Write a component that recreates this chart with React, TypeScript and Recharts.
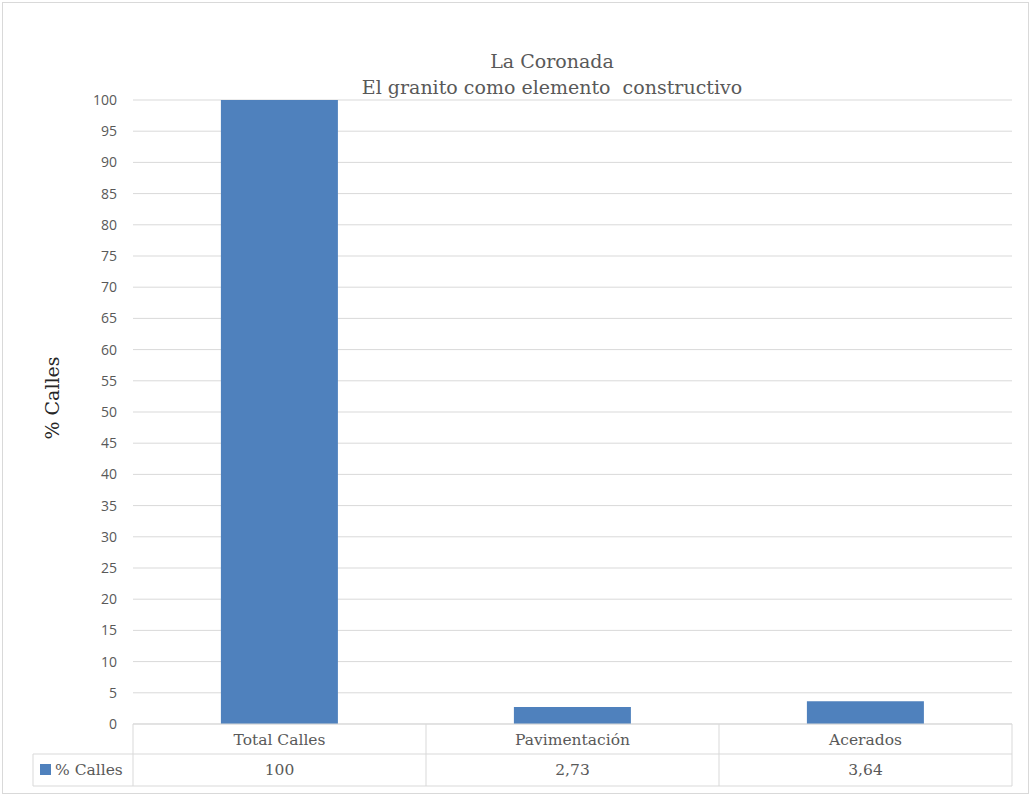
import React from 'react';
import { BarChart, Bar, XAxis, YAxis, CartesianGrid } from 'recharts';

const categories = ['Total Calles', 'Pavimentación', 'Acerados'];
const callesValues = [100, 2.73, 3.64];
const yTicks = [0, 5, 10, 15, 20, 25, 30, 35, 40, 45, 50, 55, 60, 65, 70, 75, 80, 85, 90, 95, 100];
const seriesName = '% Calles';

const data = categories.map((name, i) => ({ name, calles: callesValues[i] }));

const SERIF = '"DejaVu Serif", "Liberation Serif", serif';
const SANS = '"Open Sans", "Liberation Sans", sans-serif';
const GRID = '#d9d9d9';
const BAR = '#4f81bd';
const TEXT = '#595959';

const fmt = (v: number) => String(v).replace('.', ',');

// x-axis tick draws one column of the data table below the plot
const TableTick = (props: any) => {
  const { x, y, payload, index, width, visibleTicksCount } = props;
  const bw = width / visibleTicksCount;
  const left = x - bw / 2;
  const right = x + bw / 2;
  const rowH = 30;
  const row2 = 32;
  const legendW = 100;
  return (
    <g>
      <line x1={left} x2={right} y1={y} y2={y} stroke={GRID} />
      <line x1={left} x2={right} y1={y + rowH} y2={y + rowH} stroke={GRID} />
      <line x1={left} x2={right} y1={y + rowH + row2} y2={y + rowH + row2} stroke={GRID} />
      <line x1={right} x2={right} y1={y} y2={y + rowH + row2} stroke={GRID} />
      {index === 0 && (
        <g>
          <line x1={left} x2={left} y1={y} y2={y + rowH + row2} stroke={GRID} />
          <line x1={left - legendW} x2={left} y1={y + rowH} y2={y + rowH} stroke={GRID} />
          <line x1={left - legendW} x2={left} y1={y + rowH + row2} y2={y + rowH + row2} stroke={GRID} />
          <line x1={left - legendW} x2={left - legendW} y1={y + rowH} y2={y + rowH + row2} stroke={GRID} />
          <rect x={left - legendW + 7} y={y + rowH + 10} width={11} height={11} fill={BAR} />
          <text x={left - legendW + 22} y={y + rowH + 21} fontFamily={SERIF} fontSize={15.5} fill={TEXT}>
            {seriesName}
          </text>
        </g>
      )}
      <text x={x} y={y + 21} textAnchor="middle" fontFamily={SERIF} fontSize={15.5} fill={TEXT}>
        {payload.value}
      </text>
      <text x={x} y={y + rowH + 21} textAnchor="middle" fontFamily={SERIF} fontSize={15.5} fill={TEXT}>
        {fmt(callesValues[index])}
      </text>
    </g>
  );
};

export default function App() {
  return (
    <div style={{ position: 'absolute', left: 0, top: 0, width: 1031, height: 796, background: '#fff' }}>
      <svg width={1031} height={796} style={{ position: 'absolute', left: 0, top: 0 }}>
        <rect x={2.5} y={2.5} width={1026} height={791} fill="#fff" stroke={GRID} />
      </svg>
      <div style={{ position: 'absolute', left: 0, top: 0 }}>
        <BarChart
          width={1031}
          height={796}
          data={data}
          margin={{ top: 100, right: 19, bottom: 0, left: 83 }}
          barCategoryGap="30%"
        >
          <text x={552} y={68} textAnchor="middle" fontFamily={SERIF} fontSize={19} fill={TEXT}>
            La Coronada
          </text>
          <text x={552} y={94} textAnchor="middle" fontFamily={SERIF} fontSize={19} fill={TEXT} style={{ whiteSpace: 'pre' }}>
            El granito como elemento  constructivo
          </text>
          <text
            x={0}
            y={0}
            transform="translate(59,398) rotate(-90)"
            textAnchor="middle"
            fontFamily={SERIF}
            fontSize={19}
            fill="#262626"
          >
            % Calles
          </text>
          <CartesianGrid vertical={false} stroke={GRID} />
          <XAxis
            dataKey="name"
            axisLine={false}
            tickLine={false}
            tickSize={0}
            tickMargin={0}
            height={72}
            interval={0}
            tick={<TableTick />}
          />
          <YAxis
            domain={[0, 100]}
            ticks={yTicks}
            interval={0}
            width={50}
            axisLine={false}
            tickLine={false}
            tickSize={14}
            tickMargin={2}
            tick={{ fill: TEXT, fontFamily: SANS, fontSize: 14 }}
          />
          <Bar dataKey="calles" name={seriesName} fill={BAR} isAnimationActive={false} />
        </BarChart>
      </div>
    </div>
  );
}
